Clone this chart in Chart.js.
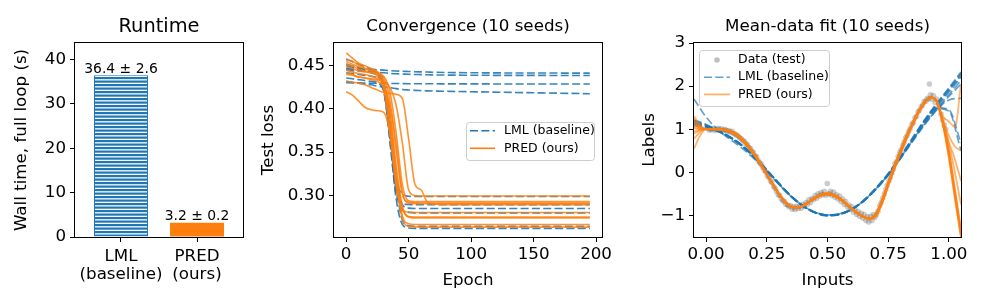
<!DOCTYPE html>
<html lang="en">
<head>
<meta charset="UTF-8">
<title>Runtime, convergence and fit</title>
<script src="https://cdn.jsdelivr.net/npm/chart.js"></script>
<style>
  body { margin: 0; background: #fff; width: 987px; height: 308px; overflow: hidden; position: relative; }
  canvas { position: absolute; top: 0; }
</style>
</head>
<body>
<canvas id="runtime" width="250" height="308" style="left:0px"></canvas>
<canvas id="conv" width="367" height="308" style="left:250px"></canvas>
<canvas id="fit" width="372" height="308" style="left:615px"></canvas>
<script>
// ---- panel 1: runtime ----
const methodTicks = [['LML', '(baseline)'], ['PRED', '(ours)']];
const runtimeMean = [36.4, 3.2];
const runtimeStd = [2.6, 0.2];

// ---- panel 2: test loss, 10 seeds per method ----
const epochs = [0, 5, 10, 15, 20, 25, 30, 35, 40, 45, 50, 55, 60, 65, 70, 80, 195];
const lossLML = [
  [0.447, 0.446, 0.445, 0.444, 0.443, 0.441, 0.430, 0.372, 0.318, 0.301, 0.2988, 0.2985, 0.2985, 0.2985, 0.2985, 0.2985, 0.2985],
  [0.452, 0.450, 0.448, 0.446, 0.444, 0.440, 0.425, 0.362, 0.302, 0.2905, 0.2893, 0.289, 0.289, 0.289, 0.289, 0.289, 0.289],
  [0.442, 0.441, 0.440, 0.439, 0.438, 0.436, 0.428, 0.392, 0.322, 0.289, 0.285, 0.2845, 0.2845, 0.2845, 0.2845, 0.2845, 0.2845],
  [0.436, 0.435, 0.434, 0.433, 0.432, 0.430, 0.420, 0.370, 0.306, 0.2825, 0.280, 0.2795, 0.2795, 0.2795, 0.2795, 0.2795, 0.2795],
  [0.458, 0.455, 0.452, 0.449, 0.446, 0.442, 0.430, 0.380, 0.312, 0.271, 0.2645, 0.264, 0.264, 0.264, 0.264, 0.264, 0.264],
  [0.450, 0.448, 0.446, 0.444, 0.442, 0.438, 0.425, 0.365, 0.296, 0.266, 0.262, 0.2615, 0.2615, 0.2615, 0.2615, 0.2615, 0.2615],
  [0.447, 0.4468, 0.4465, 0.4462, 0.446, 0.4455, 0.445, 0.4445, 0.444, 0.4437, 0.4435, 0.4432, 0.443, 0.4428, 0.4426, 0.4423, 0.4415],
  [0.445, 0.4445, 0.444, 0.4435, 0.443, 0.4425, 0.442, 0.4413, 0.4408, 0.4405, 0.4402, 0.440, 0.4398, 0.4396, 0.4395, 0.4393, 0.4388],
  [0.4305, 0.4303, 0.4302, 0.430, 0.4299, 0.4298, 0.4297, 0.4296, 0.4295, 0.4294, 0.4293, 0.4293, 0.4292, 0.4292, 0.4292, 0.4291, 0.429],
  [0.432, 0.431, 0.430, 0.429, 0.428, 0.4265, 0.4255, 0.4248, 0.4236, 0.4225, 0.422, 0.4216, 0.4213, 0.421, 0.4208, 0.4205, 0.4177]
];
const lossPRED = [
  [0.465, 0.459, 0.453, 0.450, 0.447, 0.443, 0.432, 0.398, 0.335, 0.287, 0.2745, 0.2737, 0.2735, 0.2735, 0.2735, 0.2735, 0.2735],
  [0.457, 0.455, 0.451, 0.447, 0.444, 0.440, 0.428, 0.385, 0.318, 0.272, 0.264, 0.2632, 0.263, 0.263, 0.263, 0.263, 0.263],
  [0.455, 0.452, 0.449, 0.447, 0.445, 0.443, 0.436, 0.410, 0.352, 0.302, 0.292, 0.2912, 0.291, 0.291, 0.291, 0.291, 0.291],
  [0.452, 0.450, 0.446, 0.444, 0.442, 0.438, 0.424, 0.372, 0.310, 0.2825, 0.2805, 0.280, 0.280, 0.280, 0.280, 0.280, 0.280],
  [0.449, 0.447, 0.444, 0.443, 0.442, 0.441, 0.438, 0.420, 0.372, 0.312, 0.2935, 0.2926, 0.2925, 0.2925, 0.2925, 0.2925, 0.2925],
  [0.445, 0.443, 0.441, 0.440, 0.438, 0.435, 0.427, 0.390, 0.326, 0.285, 0.2752, 0.2746, 0.2745, 0.2745, 0.2745, 0.2745, 0.2745],
  [0.420, 0.416, 0.409, 0.402, 0.399, 0.398, 0.396, 0.372, 0.318, 0.276, 0.2668, 0.266, 0.266, 0.266, 0.266, 0.266, 0.266],
  [0.442, 0.440, 0.437, 0.436, 0.435, 0.434, 0.432, 0.425, 0.404, 0.360, 0.306, 0.2995, 0.299, 0.299, 0.299, 0.299, 0.299],
  [0.432, 0.431, 0.430, 0.428, 0.425, 0.422, 0.419, 0.418, 0.417, 0.412, 0.365, 0.313, 0.306, 0.292, 0.2898, 0.289, 0.289],
  [0.440, 0.439, 0.437, 0.436, 0.434, 0.432, 0.425, 0.404, 0.360, 0.302, 0.2912, 0.2902, 0.290, 0.290, 0.290, 0.290, 0.290]
];

// ---- panel 3: test data and fitted means ----
const dataX = [0.005, 0.012, 0.018, 0.024, 0.031, 0.037, 0.043, 0.050, 0.056, 0.062, 0.069, 0.075, 0.081, 0.088, 0.094,
  0.100, 0.107, 0.113, 0.119, 0.126, 0.132, 0.138, 0.145, 0.151, 0.157, 0.164, 0.170, 0.176, 0.183, 0.189, 0.195,
  0.202, 0.208, 0.214, 0.221, 0.227, 0.233, 0.240, 0.246, 0.252, 0.259, 0.265, 0.271, 0.278, 0.284, 0.290, 0.297,
  0.303, 0.309, 0.316, 0.322, 0.328, 0.335, 0.341, 0.347, 0.354, 0.360, 0.366, 0.373, 0.379, 0.385, 0.392, 0.398,
  0.404, 0.411, 0.417, 0.423, 0.430, 0.436, 0.442, 0.449, 0.455, 0.461, 0.468, 0.474, 0.480, 0.487, 0.493, 0.499,
  0.506, 0.512, 0.518, 0.525, 0.531, 0.537, 0.544, 0.550, 0.556, 0.563, 0.569, 0.575, 0.582, 0.588, 0.594, 0.601,
  0.607, 0.613, 0.620, 0.626, 0.632, 0.639, 0.645, 0.651, 0.658, 0.664, 0.670, 0.677, 0.683, 0.689, 0.696, 0.702,
  0.708, 0.715, 0.721, 0.727, 0.734, 0.740, 0.746, 0.753, 0.759, 0.765, 0.772, 0.778, 0.784, 0.791, 0.797, 0.803,
  0.810, 0.816, 0.822, 0.829, 0.835, 0.841, 0.848, 0.854, 0.860, 0.867, 0.873, 0.879, 0.886, 0.892, 0.898, 0.905,
  0.911, 0.917, 0.920, 0.924, 0.930, 0.936, 0.943, 0.949, 0.955, 0.962, 0.968, 0.974, 0.981, 0.987];
const dataY = [1.02, 0.98, 1.01, 0.99, 1.03, 0.97, 1.00, 1.02, 0.98, 1.01, 0.97, 1.00, 0.98, 0.95, 0.97,
  0.93, 0.95, 0.90, 0.89, 0.86, 0.84, 0.80, 0.78, 0.74, 0.72, 0.66, 0.64, 0.58, 0.55, 0.49, 0.46,
  0.38, 0.36, 0.28, 0.22, 0.19, 0.12, 0.05, 0.01, -0.08, -0.12, -0.20, -0.24, -0.33, -0.37, -0.44, -0.52,
  -0.53, -0.61, -0.66, -0.67, -0.74, -0.76, -0.80, -0.77, -0.85, -0.80, -0.86, -0.79, -0.84, -0.78, -0.83, -0.74,
  -0.79, -0.70, -0.74, -0.64, -0.70, -0.60, -0.63, -0.54, -0.60, -0.50, -0.55, -0.47, -0.52, -0.44, -0.53, -0.26,
  -0.50, -0.44, -0.54, -0.46, -0.58, -0.52, -0.62, -0.55, -0.68, -0.62, -0.74, -0.68, -0.80, -0.76, -0.86, -0.80,
  -0.92, -0.86, -0.97, -0.91, -1.02, -0.95, -1.06, -0.98, -1.12, -1.03, -1.15, -1.02, -1.12, -0.98, -1.04, -0.98,
  -0.90, -0.78, -0.70, -0.60, -0.50, -0.40, -0.30, -0.20, -0.12, -0.02, 0.08, 0.20, 0.25, 0.36, 0.45, 0.52,
  0.62, 0.70, 0.80, 0.86, 0.95, 1.02, 1.12, 1.15, 1.26, 1.30, 1.40, 1.44, 1.52, 1.56, 1.64, 1.65,
  1.72, 1.70, 2.05, 1.80, 1.70, 1.78, 1.62, 1.70, 1.50, 1.55, 1.35, 1.22, 1.10, 1.00];

const fitX = [-0.05, 0, 0.05, 0.1, 0.15, 0.2, 0.25, 0.3, 0.35, 0.4, 0.45, 0.5, 0.55, 0.6, 0.65, 0.7, 0.75, 0.8, 0.85, 0.9, 0.95, 1.0, 1.05];
const fitLML = [
  [1.15, 1.07, 0.95, 0.80, 0.60, 0.33, 0.03, -0.28, -0.57, -0.79, -0.94, -1.00, -0.97, -0.85, -0.64, -0.36, -0.03, 0.37, 0.80, 1.22, 1.60, 1.96, 2.33],
  [1.20, 1.10, 0.97, 0.81, 0.60, 0.34, 0.04, -0.27, -0.56, -0.79, -0.94, -1.00, -0.97, -0.85, -0.65, -0.37, -0.04, 0.35, 0.77, 1.19, 1.57, 1.92, 2.27],
  [1.10, 1.05, 0.95, 0.81, 0.62, 0.36, 0.06, -0.25, -0.55, -0.78, -0.94, -1.01, -0.98, -0.86, -0.66, -0.38, -0.05, 0.34, 0.75, 1.16, 1.52, 1.86, 2.20],
  [1.12, 1.06, 0.96, 0.82, 0.62, 0.35, 0.05, -0.26, -0.55, -0.78, -0.93, -0.99, -0.97, -0.86, -0.66, -0.39, -0.06, 0.32, 0.73, 1.13, 1.48, 1.80, 2.13],
  [1.70, 1.28, 0.98, 0.76, 0.55, 0.30, 0.02, -0.28, -0.56, -0.78, -0.93, -0.99, -0.96, -0.85, -0.65, -0.38, -0.05, 0.34, 0.74, 1.12, 1.45, 1.68, 1.72],
  [1.18, 1.08, 0.96, 0.81, 0.61, 0.35, 0.05, -0.26, -0.55, -0.78, -0.93, -0.99, -0.97, -0.86, -0.66, -0.38, -0.05, 0.35, 0.76, 1.20, 1.50, 1.45, 0.68],
  [1.08, 1.03, 0.94, 0.80, 0.61, 0.35, 0.05, -0.26, -0.55, -0.78, -0.93, -0.99, -0.97, -0.86, -0.66, -0.39, -0.06, 0.33, 0.74, 1.16, 1.48, 1.42, 0.50],
  [1.14, 1.07, 0.96, 0.81, 0.61, 0.34, 0.04, -0.27, -0.56, -0.79, -0.94, -1.00, -0.97, -0.85, -0.65, -0.36, -0.03, 0.36, 0.79, 1.21, 1.59, 1.94, 2.30],
  [1.22, 1.11, 0.97, 0.80, 0.59, 0.33, 0.03, -0.27, -0.56, -0.78, -0.93, -0.99, -0.97, -0.86, -0.66, -0.39, -0.07, 0.31, 0.71, 1.10, 1.45, 1.76, 2.05],
  [1.16, 1.08, 0.96, 0.81, 0.61, 0.35, 0.05, -0.26, -0.55, -0.78, -0.94, -1.00, -0.97, -0.86, -0.65, -0.37, -0.04, 0.35, 0.76, 1.17, 1.54, 1.89, 2.24]
];
const predX = [-0.05, -0.025, 0, 0.025, 0.05, 0.075, 0.1, 0.125, 0.15, 0.175, 0.2, 0.225, 0.25, 0.275, 0.3, 0.325, 0.35, 0.375,
  0.4, 0.425, 0.45, 0.475, 0.5, 0.525, 0.55, 0.575, 0.6, 0.625, 0.65, 0.675, 0.7, 0.725, 0.75, 0.775, 0.8, 0.825,
  0.85, 0.875, 0.9, 0.925, 0.95, 0.975, 1.0, 1.025, 1.05];
// middle part (x = 0 .. 0.95), two slightly different traces shared by the seeds
const predMidA = [1.00, 1.00, 1.00, 0.99, 0.96, 0.89, 0.77, 0.61, 0.42, 0.20, -0.03, -0.27, -0.50, -0.68, -0.79, -0.82,
  -0.77, -0.68, -0.58, -0.51, -0.49, -0.52, -0.60, -0.71, -0.84, -0.95, -1.03, -1.06, -0.96, -0.64, -0.24, 0.14,
  0.50, 0.84, 1.14, 1.42, 1.63, 1.74, 1.64];
const predMidB = [1.01, 1.00, 0.99, 0.98, 0.94, 0.86, 0.74, 0.58, 0.39, 0.17, -0.06, -0.29, -0.51, -0.69, -0.80, -0.82,
  -0.78, -0.69, -0.60, -0.53, -0.51, -0.54, -0.62, -0.73, -0.85, -0.96, -1.04, -1.08, -1.00, -0.70, -0.30, 0.08,
  0.44, 0.79, 1.10, 1.39, 1.61, 1.74, 1.66];
// edges, per seed: x = -0.05, -0.025  and  x = 0.975, 1.0, 1.025, 1.05
const predLeft = [[1.30, 1.10], [1.20, 1.06], [1.15, 1.04], [1.10, 1.03], [1.05, 1.01],
  [0.95, 0.98], [0.90, 0.97], [0.78, 0.93], [0.55, 0.85], [1.02, 1.00]];
const predRight = [[1.15, 0.45, -0.50, -1.45], [1.13, 0.38, -0.58, -1.50], [1.17, 0.52, -0.38, -1.30],
  [1.14, 0.42, -0.50, -1.42], [1.20, 0.65, 0.00, -0.75], [1.18, 0.70, 0.30, -0.20], [1.22, 0.85, 0.60, 0.50],
  [1.30, 1.18, 1.05, 2.05], [1.12, 0.33, -0.62, -1.50], [1.16, 0.48, -0.45, -1.38]];

const BLUE = '#1f77b4';
const ORANGE = '#ff7f0e';
const FONT = "'DejaVu Sans', sans-serif";
Chart.defaults.font.family = FONT;
Chart.defaults.color = '#000';

const tickFont = { size: 16.7 };
const labelFont = { size: 16.7 };

// box around each axes, like matplotlib spines
const framePlugin = {
  id: 'frame',
  afterDatasetsDraw(chart) {
    const { ctx, chartArea: a } = chart;
    ctx.save();
    ctx.strokeStyle = '#000';
    ctx.lineWidth = 1;
    ctx.strokeRect(Math.round(a.left) - 0.5, Math.round(a.top) - 0.5,
      Math.round(a.right - a.left) + 1, Math.round(a.bottom - a.top) + 1);
    ctx.restore();
  }
};

// legend box drawn inside the plot area
const boxLegend = {
  id: 'boxLegend',
  afterDraw(chart, args, o) {
    if (!o.items) return;
    const { ctx, chartArea: a } = chart;
    const x = a.left + o.x, y = a.top + o.y;
    ctx.save();
    ctx.beginPath();
    ctx.roundRect(x + 0.5, y + 0.5, o.w, o.h, 3);
    ctx.fillStyle = 'rgba(255,255,255,0.8)';
    ctx.fill();
    ctx.strokeStyle = '#cccccc';
    ctx.lineWidth = 1;
    ctx.stroke();
    ctx.font = '12.5px ' + FONT;
    ctx.textBaseline = 'middle';
    o.items.forEach((it, i) => {
      const cy = y + o.first + i * o.rowH;
      const hx = x + o.handleX;
      if (it.kind === 'dot') {
        ctx.beginPath();
        ctx.arc(hx + o.handleW / 2, cy, 2.8, 0, Math.PI * 2);
        ctx.fillStyle = it.color;
        ctx.fill();
      } else {
        ctx.beginPath();
        ctx.setLineDash(it.kind === 'dash' ? [8, 3.3] : []);
        ctx.strokeStyle = it.color;
        ctx.lineWidth = it.width || 1.6;
        ctx.moveTo(hx, cy);
        ctx.lineTo(hx + o.handleW, cy);
        ctx.stroke();
        ctx.setLineDash([]);
      }
      ctx.fillStyle = '#000';
      ctx.fillText(it.label, x + o.textX, cy);
    });
    ctx.restore();
  }
};

// value labels above the runtime bars
const barLabels = {
  id: 'barLabels',
  afterDatasetsDraw(chart) {
    const { ctx } = chart;
    const meta = chart.getDatasetMeta(0);
    ctx.save();
    ctx.font = '13.9px ' + FONT;
    ctx.fillStyle = '#000';
    ctx.textAlign = 'center';
    ctx.textBaseline = 'alphabetic';
    meta.data.forEach((bar, i) => {
      ctx.fillText(runtimeMean[i].toFixed(1) + ' \u00b1 ' + runtimeStd[i].toFixed(1), bar.x, bar.y - 2.5);
    });
    ctx.restore();
  }
};

function axis(opts) {
  return {
    type: 'linear',
    min: opts.min,
    max: opts.max,
    offset: false,
    afterBuildTicks: s => { s.ticks = opts.ticks.map(v => ({ value: v })); },
    afterFit: s => { if (opts.width) s.width = opts.width; if (opts.height) s.height = opts.height; },
    grid: { display: true, offset: false, drawOnChartArea: false, drawTicks: true, tickLength: 5,
            color: '#000', tickColor: '#000', lineWidth: 1 },
    border: { display: false },
    ticks: { font: opts.tickFont || tickFont, padding: opts.pad, maxRotation: 0, minRotation: 0,
             autoSkip: false, callback: opts.fmt },
    title: { display: !!opts.title, text: opts.title, font: labelFont, padding: opts.titlePad }
  };
}

function titleOpts(text, size) {
  const lh = size * 1.2;
  return { display: true, text, fullSize: false, font: { size, weight: 'normal' }, color: '#000',
           padding: { top: 27 - lh / 2, bottom: 43 - 27 - lh / 2 } };
}

const base = {
  responsive: false,
  maintainAspectRatio: false,
  animation: false,
  events: [],
};

// ---- panel 1 ----
const rtCanvas = document.getElementById('runtime');
const hatchCanvas = document.createElement('canvas');
hatchCanvas.width = 8; hatchCanvas.height = 7;
const hg = hatchCanvas.getContext('2d');
hg.fillStyle = '#fff'; hg.fillRect(0, 0, 8, 7);
hg.fillStyle = BLUE; hg.fillRect(0, 0, 8, 2.2); hg.fillRect(0, 3.5, 8, 2.2);
const hatch = rtCanvas.getContext('2d').createPattern(hatchCanvas, 'repeat');

new Chart(rtCanvas, {
  type: 'bar',
  data: {
    datasets: [{
      data: runtimeMean.map((v, i) => ({ x: i, y: v })),
      backgroundColor: [hatch, ORANGE],
      borderColor: [BLUE, ORANGE],
      borderWidth: [1, 0],
      categoryPercentage: 1,
      barPercentage: 0.71
    }]
  },
  options: {
    ...base,
    layout: { padding: { left: 0, right: 7, top: 0, bottom: 0 } },
    plugins: { legend: { display: false }, tooltip: { enabled: false },
               title: titleOpts('Runtime', 19.4) },
    scales: {
      x: axis({ min: -0.605, max: 1.605, ticks: [0, 1], height: 71, pad: 5,
                tickFont: { size: 16.7, lineHeight: 1.1 }, fmt: v => methodTicks[v] }),
      y: axis({ min: 0, max: 43.68, ticks: [0, 10, 20, 30, 40], width: 75, pad: 4,
                fmt: v => String(v), title: 'Wall time, full loop (s)', titlePad: { top: 12, bottom: 0 } })
    }
  },
  plugins: [framePlugin, barLabels]
});

// ---- panel 2 ----
const convSets = [];
lossLML.forEach(arr => convSets.push({
  data: epochs.map((e, i) => ({ x: e, y: arr[i] })),
  borderColor: 'rgba(31,119,180,0.9)', borderWidth: 1.6, borderDash: [8, 3.3], order: 1
}));
lossPRED.forEach(arr => convSets.push({
  data: epochs.map((e, i) => ({ x: e, y: arr[i] })),
  borderColor: 'rgba(255,127,14,0.85)', borderWidth: 1.6, order: 0
}));
convSets.forEach(d => Object.assign(d, { pointRadius: 0, fill: false, cubicInterpolationMode: 'monotone', clip: 0 }));

new Chart(document.getElementById('conv'), {
  type: 'line',
  data: { datasets: convSets },
  options: {
    ...base,
    layout: { padding: { left: 0, right: 15, top: 0, bottom: 0 } },
    plugins: {
      legend: { display: false }, tooltip: { enabled: false },
      title: titleOpts('Convergence (10 seeds)', 16.7),
      boxLegend: { x: 132, y: 79, w: 128, h: 38, first: 8.7, rowH: 17.6, handleX: 4, handleW: 25, textX: 38,
        items: [{ label: 'LML (baseline)', kind: 'dash', color: BLUE },
                { label: 'PRED (ours)', kind: 'line', color: ORANGE }] }
    },
    scales: {
      x: axis({ min: -9.75, max: 204.75, ticks: [0, 50, 100, 150, 200], height: 71, pad: 3,
                fmt: v => String(v), title: 'Epoch', titlePad: { top: 0, bottom: 17.5 } }),
      y: axis({ min: 0.2515, max: 0.4765, ticks: [0.30, 0.35, 0.40, 0.45], width: 84, pad: 4,
                fmt: v => v.toFixed(2), title: 'Test loss', titlePad: { top: 9, bottom: 0 } })
    }
  },
  plugins: [framePlugin, boxLegend]
});

// ---- panel 3 ----
const fitSets = [{
  data: dataX.map((x, i) => ({ x, y: dataY[i] })),
  showLine: false, pointRadius: 2.8, pointBorderWidth: 0,
  pointBackgroundColor: 'rgba(0,0,0,0.2)', order: 2
}];
fitLML.forEach(arr => fitSets.push({
  data: fitX.map((x, i) => ({ x, y: arr[i] })),
  borderColor: 'rgba(31,119,180,0.7)', borderWidth: 1.6, borderDash: [8, 3.3], order: 1
}));
predLeft.forEach((left, s) => {
  const ys = left.concat(s % 2 ? predMidB : predMidA, predRight[s]);
  fitSets.push({
    data: predX.map((x, i) => ({ x, y: ys[i] })),
    borderColor: 'rgba(255,127,14,0.6)', borderWidth: 1.8, order: 0
  });
});
fitSets.forEach(d => Object.assign(d, { fill: false, cubicInterpolationMode: 'monotone', clip: 0 }));
fitSets.slice(1).forEach(d => { d.pointRadius = 0; });

new Chart(document.getElementById('fit'), {
  type: 'line',
  data: { datasets: fitSets },
  options: {
    ...base,
    layout: { padding: { left: 0, right: 26, top: 0, bottom: 0 } },
    plugins: {
      legend: { display: false }, tooltip: { enabled: false },
      title: titleOpts('Mean-data fit (10 seeds)', 16.7),
      boxLegend: { x: 5, y: 7, w: 130, h: 56, first: 10, rowH: 17.2, handleX: 5, handleW: 26, textX: 39,
        items: [{ label: 'Data (test)', kind: 'dot', color: 'rgba(0,0,0,0.25)' },
                { label: 'LML (baseline)', kind: 'dash', color: 'rgba(31,119,180,0.7)' },
                { label: 'PRED (ours)', kind: 'line', color: 'rgba(255,127,14,0.6)', width: 1.8 }] }
    },
    scales: {
      x: axis({ min: -0.05, max: 1.05, ticks: [0, 0.25, 0.5, 0.75, 1], height: 71, pad: 3,
                fmt: v => v.toFixed(2), title: 'Inputs', titlePad: { top: 0, bottom: 17.5 } }),
      y: axis({ min: -1.5, max: 3, ticks: [-1, 0, 1, 2, 3], width: 79, pad: 4,
                fmt: v => (v < 0 ? '\u2212' + Math.abs(v) : String(v)), title: 'Labels', titlePad: { top: 25, bottom: 0 } })
    }
  },
  plugins: [framePlugin, boxLegend]
});
</script>
</body>
</html>
